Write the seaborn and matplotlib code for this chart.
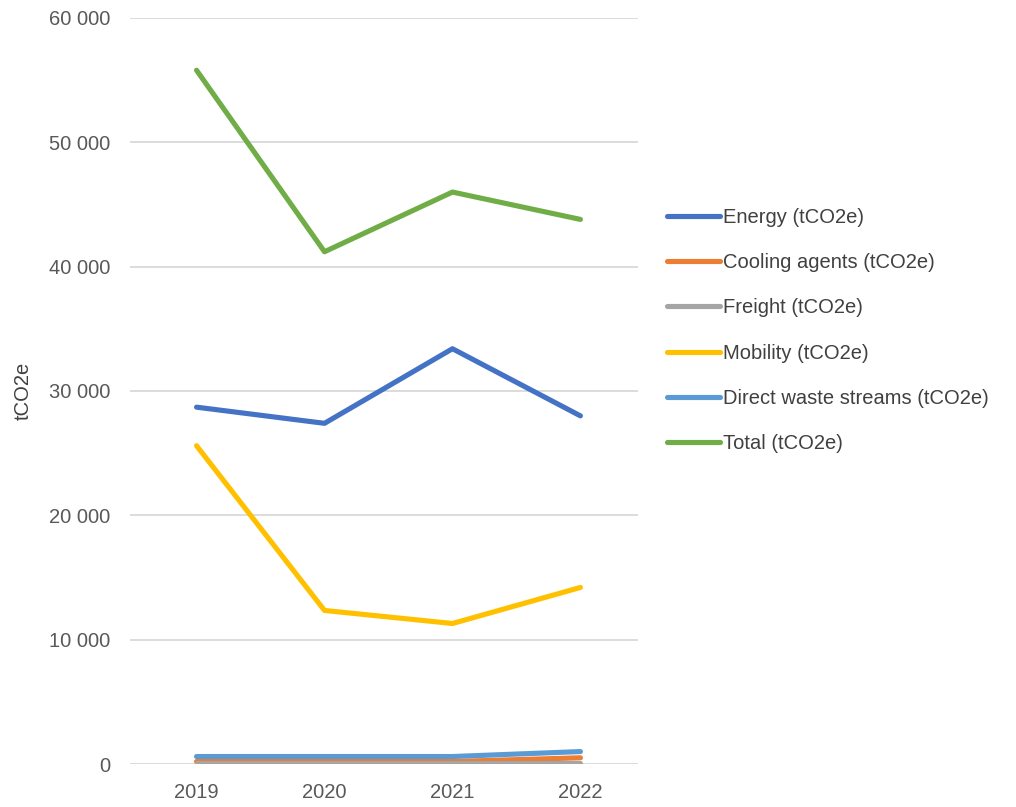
import matplotlib
matplotlib.use("Agg")
import matplotlib.pyplot as plt
import seaborn as sns
import pandas as pd
from matplotlib.ticker import FuncFormatter, MultipleLocator

years = ["2019", "2020", "2021", "2022"]
energy = [28700, 27400, 33400, 28000]
cooling = [200, 200, 200, 500]
freight = [100, 100, 100, 100]
mobility = [25600, 12350, 11300, 14200]
waste = [600, 600, 600, 1000]
total = [55800, 41200, 46000, 43800]

series_names = ["Energy (tCO2e)", "Cooling agents (tCO2e)", "Freight (tCO2e)",
                "Mobility (tCO2e)", "Direct waste streams (tCO2e)", "Total (tCO2e)"]
series_vals = [energy, cooling, freight, mobility, waste, total]
colors = ["#4472C4", "#ED7D31", "#A5A5A5", "#FFC000", "#5B9BD5", "#70AD47"]

rows = []
for name, vals in zip(series_names, series_vals):
    for i, (y, v) in enumerate(zip(years, vals)):
        rows.append({"Year": y, "x": i, "Series": name, "Value": v})
df = pd.DataFrame(rows)

sns.set_style("white")
plt.rcParams['font.family'] = ['Liberation Sans', 'DejaVu Sans']

fig = plt.figure(figsize=(10.16, 8.07), dpi=100)
ax = fig.add_axes([130/1016, 1-764/807, (638-130)/1016, (764-18)/807])

sns.lineplot(data=df, x="x", y="Value", hue="Series", hue_order=series_names,
             palette=colors, linewidth=3.7, ax=ax, legend=True, sort=False)

ax.set_xlim(-0.52, 3.45)
ax.set_ylim(0, 60000)
ax.set_xticks(range(len(years)))
ax.set_xticklabels(years)
ax.yaxis.set_major_locator(MultipleLocator(10000))
ax.yaxis.set_major_formatter(FuncFormatter(lambda v, p: f"{int(v):,}".replace(",", " ")))
ax.grid(axis="y", color="#D9D9D9", linewidth=1.3)
ax.set_axisbelow(True)
for s in ax.spines.values():
    s.set_visible(False)
ax.tick_params(axis="both", length=0, labelsize=14.5, colors="#595959")
ax.tick_params(axis="y", pad=14)
ax.tick_params(axis="x", pad=14)
ax.set_xlabel("")
ax.set_ylabel("tCO2e", fontsize=14.5, color="#404040", labelpad=12)

handles, labels = ax.get_legend_handles_labels()
ax.get_legend().remove()
leg = fig.legend(handles, labels, loc="upper left", bbox_to_anchor=(649/1016, 1-190/807),
                 frameon=False, fontsize=14.5, handlelength=2.65, handletextpad=0.12,
                 labelspacing=1.3, labelcolor="#404040")
for h in leg.get_lines():
    h.set_linewidth(3.7)

fig.savefig("out.png", dpi=100)
